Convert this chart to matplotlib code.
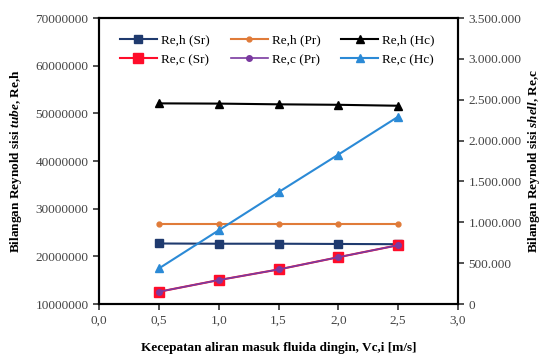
import matplotlib
matplotlib.use("Agg")
import matplotlib.pyplot as plt
from matplotlib.ticker import FuncFormatter

plt.rcParams["font.family"] = "Liberation Serif"
plt.rcParams["mathtext.fontset"] = "custom"
plt.rcParams["mathtext.it"] = "Liberation Serif:italic:bold"
plt.rcParams["mathtext.rm"] = "Liberation Serif:bold"

# cold-fluid inlet velocity (m/s)
vc = [0.5, 1.0, 1.5, 2.0, 2.5]

# tube side Reynold number (left axis)
reh_sr = [22700000, 22650000, 22650000, 22600000, 22550000]
reh_pr = [26700000, 26700000, 26700000, 26700000, 26700000]
reh_hc = [52100000, 52050000, 51900000, 51800000, 51600000]

# shell side Reynold number (right axis)
rec_sr = [150000, 293000, 423000, 573000, 720000]
rec_pr = [150000, 293000, 423000, 573000, 720000]
rec_hc = [435000, 902000, 1369000, 1829000, 2293000]

xticks = [0.0, 0.5, 1.0, 1.5, 2.0, 2.5, 3.0]
left_ticks = [10000000, 20000000, 30000000, 40000000, 50000000, 60000000, 70000000]
right_ticks = [0, 500000, 1000000, 1500000, 2000000, 2500000, 3000000, 3500000]

NAVY = "#1f3a6e"
ORANGE = "#e07b39"
BLACK = "#000000"
RED = "#ff0d2a"
PURPLE = "#7a3aa0"
BLUE = "#2b8ad6"

fig = plt.figure(figsize=(5.45, 3.54), dpi=100)
ax = fig.add_axes([0.1817, 0.1412, 0.6587, 0.8078])
ax2 = ax.twinx()

h1, = ax.plot(vc, reh_sr, color=NAVY, lw=1.5, marker="s", ms=6)
h2, = ax.plot(vc, reh_pr, color=ORANGE, lw=1.5, marker="o", ms=3.5)
h3, = ax.plot(vc, reh_hc, color=BLACK, lw=1.5, marker="^", ms=5.5)
h4, = ax2.plot(vc, rec_sr, color=RED, lw=1.5, marker="s", ms=6.5)
h5, = ax2.plot(vc, rec_pr, color=PURPLE, lw=1.2, marker="o", ms=4)
h6, = ax2.plot(vc, rec_hc, color=BLUE, lw=1.5, marker="^", ms=5.5)

ax.set_xlim(0, 3)
ax.set_ylim(10000000, 70000000)
ax2.set_ylim(0, 3500000)
ax.set_xticks(xticks)
ax.set_yticks(left_ticks)
ax2.set_yticks(right_ticks)
ax.xaxis.set_major_formatter(FuncFormatter(lambda v, p: f"{v:.1f}".replace(".", ",")))
ax.yaxis.set_major_formatter(FuncFormatter(lambda v, p: f"{int(v)}"))
ax2.yaxis.set_major_formatter(FuncFormatter(lambda v, p: f"{int(v):,}".replace(",", ".")))

for a in (ax, ax2):
    for s in a.spines.values():
        s.set_linewidth(1.5)
    a.tick_params(labelsize=9.5, width=1.2, length=4, colors="#333333", labelcolor="#444444")

ax.set_xlabel("Kecepatan aliran masuk fluida dingin, Vc,i [m/s]", fontsize=9.5,
              fontweight="bold", labelpad=11)
ax.set_ylabel("Bilangan Reynold sisi $\\mathit{tube}$, Re,h", fontsize=9.5,
              fontweight="bold", labelpad=8)
ax2.set_ylabel("Bilangan Reynold sisi $\\mathit{shell}$, Re,c", fontsize=9.5,
               fontweight="bold", rotation=90, labelpad=3)

ax2.legend([h1, h4, h2, h5, h3, h6],
           ["Re,h (Sr)", "Re,c (Sr)", "Re,h (Pr)", "Re,c (Pr)", "Re,h (Hc)", "Re,c (Hc)"],
           ncol=3, loc="upper left", bbox_to_anchor=(0.025, 0.985), frameon=False,
           fontsize=9.5, handlelength=2.8, columnspacing=1.6, labelspacing=0.55,
           handletextpad=0.3)

fig.savefig("out.png", dpi=100)
